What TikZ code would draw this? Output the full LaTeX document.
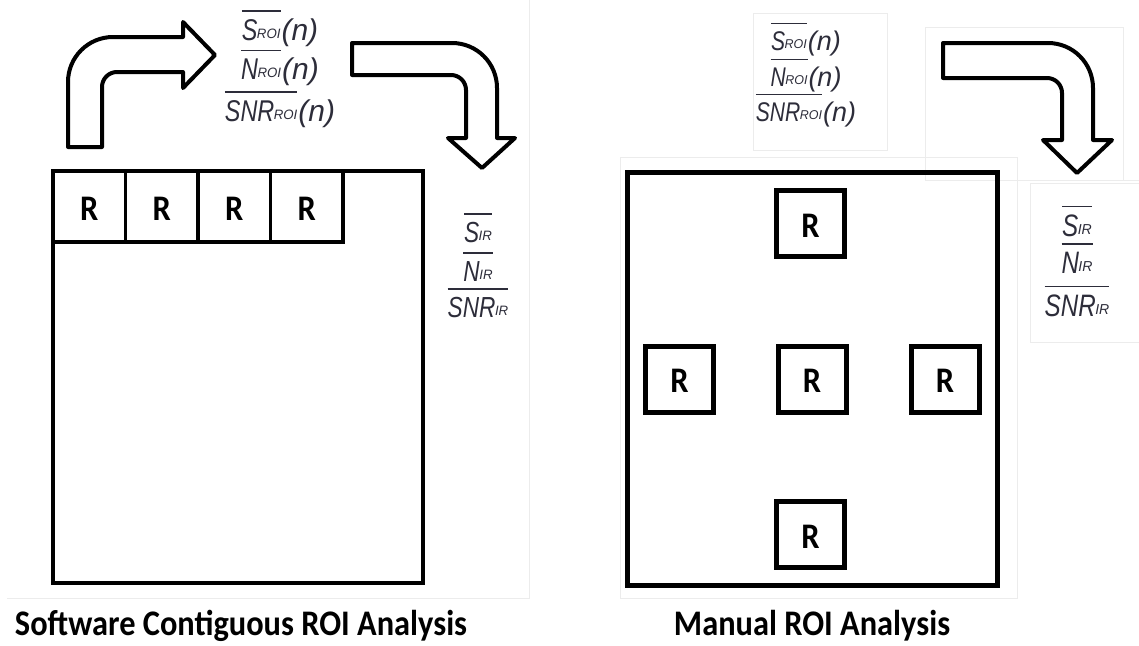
\documentclass[tikz,border=0pt]{standalone}
\usepackage{fontspec}
\usepackage{graphicx}
\newfontfamily\carl{Carlito}
\newfontfamily\ari{Liberation Sans}
\definecolor{labcol}{RGB}{45,45,58}
\definecolor{panel}{RGB}{236,236,236}
% #1 size, #2 main text, #3 sub size, #4 sub text
\newcommand\ovl[4]{\scalebox{0.78}[1]{\vbox{\hrule height 1.6pt\kern 7pt\hbox{\ari\itshape\fontsize{#1}{#1}\selectfont #2\kern-0.02em\raise1.5pt\hbox{\fontsize{#3}{#3}\selectfont\scalebox{1}[0.8]{#4}}}}}}
\newcommand\parn[1]{{\ari\itshape\fontsize{#1}{#1}\selectfont\kern1pt(n)}}
\tikzset{
  big/.style={draw, line width=4.5pt, inner sep=0pt, outer sep=0pt, anchor=north west},
  cell/.style={draw, line width=3.5pt, minimum width=72.5pt, minimum height=71pt, inner sep=0pt, outer sep=0pt},
  roi/.style={draw, line width=5pt, minimum width=68pt, minimum height=66pt, inner sep=0pt, outer sep=0pt},
  rtxt/.style={inner sep=0pt, font=\carl\bfseries\fontsize{36}{36}\selectfont},
  lab/.style={anchor=base, inner sep=0pt, text=labcol},
  bent/.style={draw, line width=4pt, line join=round, fill=white},
  title/.style={anchor=base, inner sep=0pt, font=\carl\bfseries\fontsize{36}{36}\selectfont},
  faint/.style={draw=panel, line width=1pt}
}
\newcommand\RR{\scalebox{0.9}[1]{R}}
\begin{document}
\begin{tikzpicture}[x=1pt,y=-1pt]
\useasboundingbox[fill=white] (0,0) rectangle (1139,645);
% faint panel borders
\draw[faint] (529,0) -- (529,598) -- (7,598);
\draw[faint] (620,157) rectangle (1017,598);
\draw[faint] (753,13) rectangle (887,150);
\draw[faint] (925,27) rectangle (1123,180);
\draw[faint] (1017,180) -- (1139,180);
\draw[faint] (1030,183) rectangle (1145,342);

% left big box
\node[big, minimum width=370pt, minimum height=412pt] (boxL) at (53,171) {};
\node[cell] (c1) at (89.25,206.5) {};
\node[cell] (c2) at (161.75,206.5) {};
\node[cell] (c3) at (234.25,206.5) {};
\node[cell] (c4) at (306.75,206.5) {};
\foreach \c in {c1,c2,c3,c4} \node[rtxt] at ([yshift=-2pt]\c.center) {\RR};

% right big box
\node[big, line width=5pt, minimum width=370pt, minimum height=413pt] (boxR) at (627,172) {};
\node[roi] (rt) at (810.5,223.5) {};
\node[roi] (rl) at (679.5,379) {};
\node[roi] (rc) at (812,379) {};
\node[roi] (rr) at (945,379) {};
\node[roi] (rb) at (810.5,534.5) {};
\foreach \c in {rt,rl,rc,rr,rb} \node[rtxt] at ([yshift=-2pt]\c.center) {\RR};

% bent arrows
\draw[bent] (102,147) -- (68,147) -- (68,82) arc[start angle=180,end angle=90,radius=45pt]
  -- (183,37) -- (183,22) -- (215,55) -- (183,88) -- (183,72) -- (117,72)
  arc[start angle=90,end angle=180,radius=15pt] -- cycle;
\draw[bent] (352,43) -- (452,43) arc[start angle=90,end angle=0,radius=45pt]
  -- (497,138) -- (515,138) -- (482,168) -- (448,138) -- (466,138) -- (466,90)
  arc[start angle=0,end angle=90,radius=15pt] -- (352,75) -- cycle;
\draw[bent] (943,43) -- (1048,43) arc[start angle=90,end angle=0,radius=45pt]
  -- (1093,140) -- (1112,140) -- (1077,173) -- (1043,140) -- (1062,140) -- (1062,93)
  arc[start angle=0,end angle=90,radius=15pt] -- (943,78) -- cycle;

% left ROI labels
\node[lab] (sL) at (280,40) {\ovl{30}{S}{17}{ROI}\parn{30}};
\node[lab] (nL) at (280,79) {\ovl{30}{N}{17}{ROI}\parn{30}};
\node[lab] (snrL) at (280,121) {\ovl{30}{SNR}{17}{ROI}\parn{30}};
% left IR labels
\node[lab] (sIL) at (478,242) {\ovl{29}{S}{17}{IR}};
\node[lab] (nIL) at (478,281) {\ovl{29}{N}{17}{IR}};
\node[lab] (snrIL) at (478,317) {\ovl{29}{SNR}{17}{IR}};
% right ROI labels
\node[lab] (sR) at (806,50) {\ovl{27}{S}{16}{ROI}\parn{27}};
\node[lab] (nR) at (806,86) {\ovl{27}{N}{16}{ROI}\parn{27}};
\node[lab] (snrR) at (806,121) {\ovl{27}{SNR}{16}{ROI}\parn{27}};
% right IR labels
\node[lab] (sIR) at (1077,236) {\ovl{31}{S}{18}{IR}};
\node[lab] (nIR) at (1077,273) {\ovl{31}{N}{18}{IR}};
\node[lab] (snrIR) at (1077,316) {\ovl{31}{SNR}{18}{IR}};

% titles
\node[title] (tL) at (241,635) {\scalebox{0.9}[1]{Software Contiguous ROI Analysis}};
\node[title] (tR) at (812,635) {\scalebox{0.9}[1]{Manual ROI Analysis}};
\end{tikzpicture}
\end{document}
